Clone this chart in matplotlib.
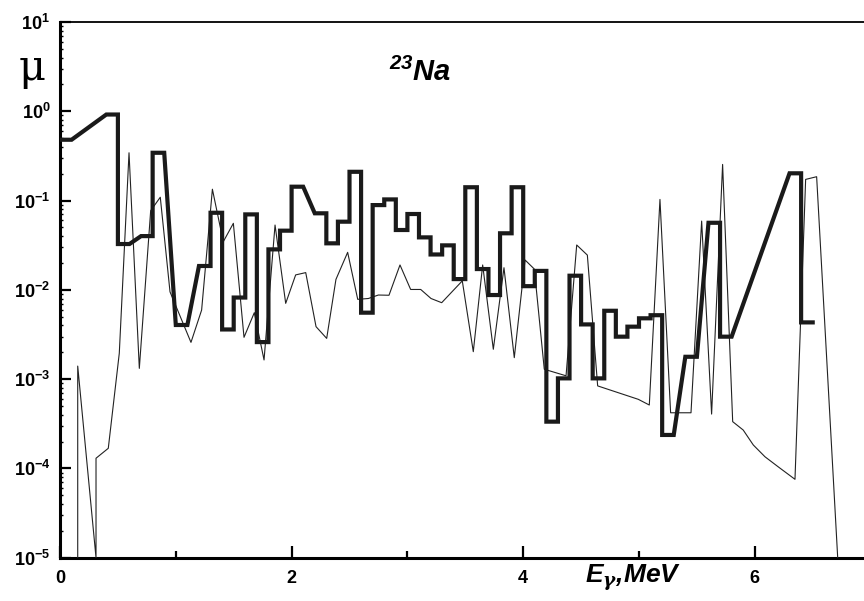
import numpy as np
import matplotlib
matplotlib.use("Agg")
import matplotlib.pyplot as plt
from matplotlib.ticker import LogLocator, FixedLocator, NullFormatter

# 字体设置：粗体无衬线，数学文本用同一字体
plt.rcParams['font.family'] = ['Liberation Sans', 'DejaVu Sans']
plt.rcParams['font.weight'] = 'bold'
plt.rcParams['mathtext.fontset'] = 'custom'
plt.rcParams['mathtext.default'] = 'regular'
plt.rcParams['mathtext.it'] = 'DejaVu Serif:italic:bold'

# 粗线：分箱 (下限, 上限, 值)
bin_lo = [0.0, 0.4, 0.5, 0.7, 0.8, 1.0, 1.2, 1.3, 1.4, 1.5, 1.6, 1.7, 1.8, 1.9,
          2.0, 2.2, 2.3, 2.4, 2.5, 2.6, 2.7, 2.8, 2.9, 3.0, 3.1, 3.2, 3.3, 3.4,
          3.5, 3.6, 3.7, 3.8, 3.9, 4.0, 4.1, 4.2, 4.3, 4.4, 4.5, 4.6, 4.7, 4.8,
          4.9, 5.0, 5.1, 5.2, 5.4, 5.6, 5.7, 6.3, 6.4]
bin_hi = [0.1, 0.5, 0.6, 0.8, 0.9, 1.1, 1.3, 1.4, 1.5, 1.6, 1.7, 1.8, 1.9, 2.0,
          2.1, 2.3, 2.4, 2.5, 2.6, 2.7, 2.8, 2.9, 3.0, 3.1, 3.2, 3.3, 3.4, 3.5,
          3.6, 3.7, 3.8, 3.9, 4.0, 4.1, 4.2, 4.3, 4.4, 4.5, 4.6, 4.7, 4.8, 4.9,
          5.0, 5.1, 5.2, 5.3, 5.5, 5.7, 5.8, 6.4, 6.5]
mu_thick = [0.48, 0.92, 0.0326, 0.040, 0.343, 0.00404, 0.0185, 0.073, 0.0036,
            0.0082, 0.070, 0.0026, 0.0284, 0.046, 0.143, 0.072, 0.0332, 0.058,
            0.21, 0.00555, 0.089, 0.103, 0.0468, 0.0707, 0.0387, 0.0249, 0.0315,
            0.0132, 0.141, 0.0171, 0.00875, 0.043, 0.141, 0.011, 0.0163,
            0.000334, 0.00102, 0.0144, 0.0041, 0.00102, 0.00583, 0.00299,
            0.00387, 0.0048, 0.0052, 0.000237, 0.00178, 0.0564, 0.00299,
            0.202, 0.00432]

# 细线：折线点
e_thin = [0.153, 0.153, 0.311, 0.311, 0.417, 0.512, 0.596, 0.685, 0.783, 0.866,
          0.95, 1.131, 1.223, 1.316, 1.41, 1.497, 1.589, 1.678, 1.762, 1.857,
          1.949, 2.035, 2.122, 2.211, 2.303, 2.383, 2.484, 2.571, 2.663, 2.749,
          2.841, 2.936, 3.028, 3.115, 3.204, 3.296, 3.474, 3.569, 3.65, 3.742,
          3.834, 3.923, 4.016, 4.096, 4.182, 4.37, 4.462, 4.554, 4.643, 4.994,
          5.089, 5.181, 5.273, 5.449, 5.541, 5.627, 5.722, 5.809, 5.90, 5.987,
          6.088, 6.203, 6.347, 6.439, 6.534, 6.72]
mu_thin = [1e-6, 0.0014, 1e-5, 0.00013, 0.000168, 0.00195, 0.343, 0.00132,
           0.077, 0.109, 0.0095, 0.00258, 0.00594, 0.134, 0.0346, 0.0556,
           0.00294, 0.00555, 0.00164, 0.0532, 0.00706, 0.0147, 0.0156, 0.00387,
           0.00286, 0.0131, 0.0263, 0.00783, 0.0080, 0.00875, 0.0087, 0.019,
           0.0101, 0.0101, 0.0080, 0.00718, 0.0126, 0.00203, 0.019, 0.00216,
           0.0177, 0.00174, 0.0216, 0.0171, 0.00129, 0.00109, 0.0318, 0.0245,
           0.00084, 0.000594, 0.000513, 0.103, 0.00042, 0.00042, 0.0589,
           0.000406, 0.254, 0.000334, 0.000269, 0.000183, 0.000135, 0.000104,
           0.0000755, 0.1726, 0.185, 8e-6]

# 粗线折线：每个分箱取两个端点
x_thick = []
y_thick = []
for lo, hi, v in zip(bin_lo, bin_hi, mu_thick):
    x_thick += [lo, hi]
    y_thick += [v, v]

fig = plt.figure(figsize=(8.64, 6.01), dpi=100)
# 右边界超出画布（原图被裁切）
ax = fig.add_axes([60 / 864, 1 - 557.7 / 601, 810.6 / 864, 535.7 / 601])

ax.plot(e_thin, mu_thin, color='#222222', linewidth=0.8, zorder=3)
ax.plot(x_thick, y_thick, color='#1a1a1a', linewidth=3.0,
        solid_joinstyle='miter', zorder=4)

ax.set_yscale('log')
ax.set_ylim(1e-5, 10)
ax.set_xlim(0, 7)

# 刻度
ax.yaxis.set_major_locator(FixedLocator([1e-5, 1e-4, 1e-3, 1e-2, 1e-1, 1, 10]))
ax.yaxis.set_minor_locator(LogLocator(base=10, subs=np.arange(2, 10), numticks=20))
ax.yaxis.set_minor_formatter(NullFormatter())
ax.xaxis.set_major_locator(FixedLocator([0, 2, 4, 6]))
ax.xaxis.set_minor_locator(FixedLocator([1, 3, 5]))
ax.tick_params(axis='both', which='major', direction='in', labelsize=13,
               width=1.6)
ax.tick_params(axis='y', which='major', length=8, pad=7)
ax.tick_params(axis='x', which='major', length=8.5, pad=9)
ax.tick_params(axis='y', which='minor', direction='in', length=2.5, width=1.0)
ax.tick_params(axis='x', which='minor', direction='in', length=5, width=1.6)
ax.tick_params(top=False, right=False, which='both')

for lab in ax.get_xticklabels() + ax.get_yticklabels():
    lab.set_fontweight('bold')

ax.spines['left'].set_linewidth(2.2)
ax.spines['bottom'].set_linewidth(2.2)
ax.spines['top'].set_linewidth(1.3)
ax.spines['right'].set_visible(False)

# 文字标注
fig.text(32 / 864, 1 - 68 / 601, 'μ', family=['DejaVu Serif'],
         fontweight='normal', fontsize=30, ha='center', va='center')
fig.text(420 / 864, 1 - 72 / 601, r'$^{23}$Na', fontsize=21, fontweight='bold',
         style='italic', ha='center', va='center')
fig.text(585 / 864, 1 - 578 / 601, r'E$_{\mathit{\gamma}}$,MeV', fontsize=19,
         fontweight='bold', style='italic', ha='left', va='center')

plt.savefig('out.png', dpi=100, facecolor='white')
plt.close()
